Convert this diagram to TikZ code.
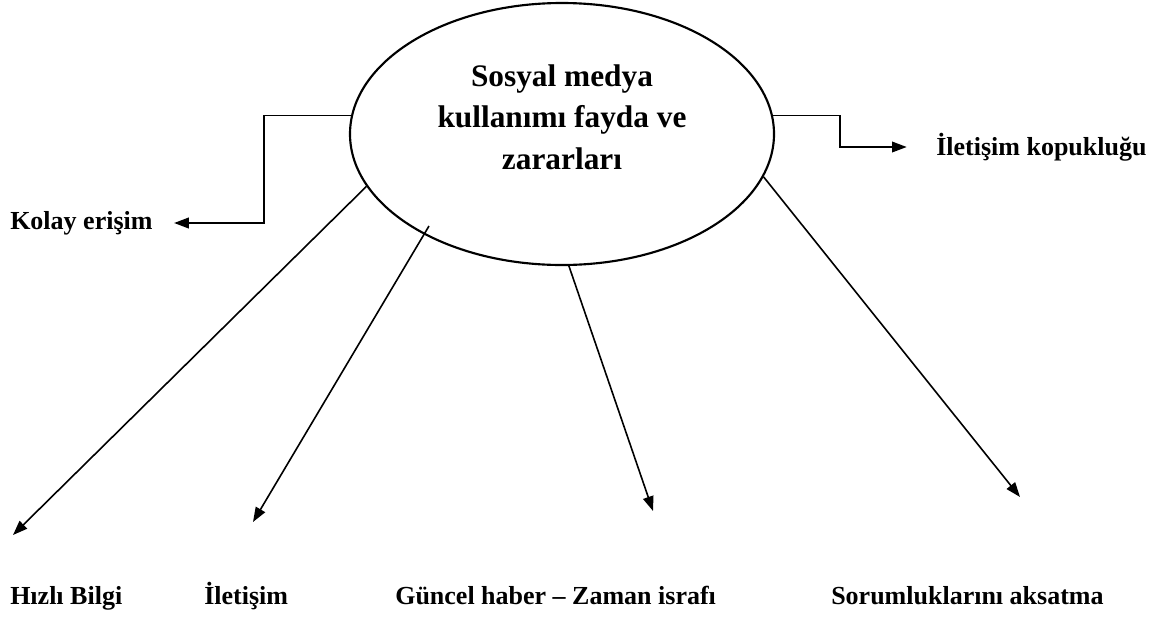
\documentclass[tikz,border=0pt]{standalone}
\usepackage{fontspec}
\newfontfamily\diagfont{Liberation Serif}
\usetikzlibrary{shapes.geometric,arrows.meta}

\begin{document}
\begin{tikzpicture}[x=0.75pt,y=-0.75pt,
  lbl/.style={inner sep=0pt,font=\diagfont\bfseries\fontsize{19.5}{22}\selectfont},
  arr/.style={line width=1.2pt,-{Triangle[length=11pt,width=8pt]}}]
\useasboundingbox (0,0) rectangle (1159,618);

\node[draw, ellipse, line width=1.6pt, inner sep=0pt, minimum width=318pt, minimum height=196.5pt] (med) at (562,134) {};
\node[align=center, font=\diagfont\bfseries\fontsize{23.5}{31}\selectfont] (medtxt) at (562,117) {Sosyal medya\\kullanımı fayda ve\\zararları};

\node[lbl, anchor=west] (kolay) at (10,223) {Kolay erişim};
\node[lbl, anchor=west] (kopuk) at (936,147) {İletişim kopukluğu};
\node[lbl, anchor=base west] (hizli) at (10,604) {Hızlı Bilgi};
\node[lbl, anchor=base west] (ilet) at (204,604) {İletişim};
\node[lbl, anchor=base west] (guncel) at (395,604) {Güncel haber – Zaman israfı};
\node[lbl, anchor=base west] (sorum) at (831,604) {Sorumluklarını aksatma};

\coordinate (iin) at (429,226);
\coordinate (t1) at (13,535);
\coordinate (t2) at (253,522);
\coordinate (t3) at (653,511);
\coordinate (t4) at (1020,497);

\path[draw,arr,shorten >=16pt] (med.175) -- ++(-87,0) |- (kolay.east);
\path[draw,arr,shorten >=22pt] (med.5) -- ++(67,0) |- (kopuk.west);
\path[draw,arr] (med.195) -- (t1);
\path[draw,arr] (iin) -- (t2);
\path[draw,arr] (med.273) -- (t3);
\path[draw,arr] (med.348) -- (t4);
\end{tikzpicture}
\end{document}
